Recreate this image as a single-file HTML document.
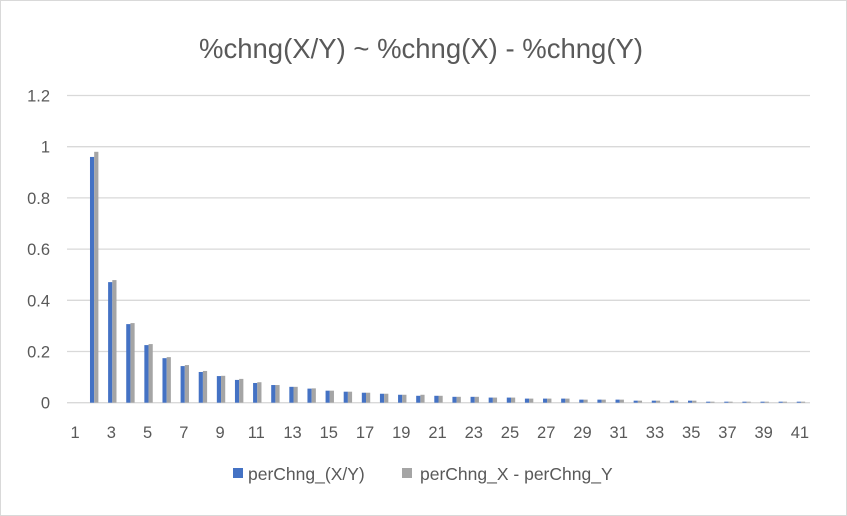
<!DOCTYPE html>
<html><head><meta charset="utf-8"><style>
body{margin:0;background:#fff;}
svg{display:block;font-family:"Liberation Sans",sans-serif;}
</style></head><body>
<svg id="chart" width="847" height="516" viewBox="0 0 847 516">
<rect x="0.5" y="0.5" width="846" height="515" fill="#fff" stroke="#d9d9d9"/>
<text x="421" y="58" text-anchor="middle" font-size="27.5" fill="#595959">%chng(X/Y) ~ %chng(X) - %chng(Y)</text>
<g id="grid"></g><g id="bars"></g><g id="xlabels"></g><g id="ylabels"></g>
<g>
<rect x="233" y="468" width="10" height="10" fill="#4472C4"/>
<text x="248" y="480" font-size="17.5" fill="#595959">perChng_(X/Y)</text>
<rect x="402" y="468" width="10" height="10" fill="#A5A5A5"/>
<text x="420" y="480" font-size="17.5" fill="#595959">perChng_X - perChng_Y</text>
</g>
</svg>
<script>
const categories=[];for(let i=1;i<=41;i++)categories.push(i);
const seriesXY=[0,0.96,0.471,0.307,0.225,0.174,0.143,0.12,0.104,0.089,0.077,0.069,0.062,0.055,0.047,0.043,0.039,0.035,0.031,0.027,0.027,0.023,0.023,0.02,0.02,0.016,0.016,0.016,0.012,0.012,0.012,0.008,0.008,0.008,0.008,0.004,0.004,0.004,0.004,0.004,0.004];
const seriesDiff=[0,0.98,0.479,0.311,0.229,0.178,0.147,0.124,0.105,0.093,0.08,0.069,0.062,0.056,0.047,0.043,0.039,0.035,0.031,0.031,0.027,0.023,0.023,0.02,0.02,0.016,0.016,0.016,0.012,0.012,0.012,0.008,0.008,0.008,0.008,0.004,0.004,0.004,0.004,0.004,0.004];
const yTicks=[0,0.2,0.4,0.6,0.8,1,1.2];
const NS="http://www.w3.org/2000/svg";
const x0=67,x1=810,y0=402.7,pxPerUnit=256;
const step=(x1-x0)/categories.length;
const xc=i=>x0+step*(i+0.5);
const y=v=>y0-v*pxPerUnit;
function mk(t,a,p){const e=document.createElementNS(NS,t);for(const k in a)e.setAttribute(k,a[k]);p.appendChild(e);return e;}
const grid=document.getElementById('grid'),bars=document.getElementById('bars'),xl=document.getElementById('xlabels'),yl=document.getElementById('ylabels');
yTicks.forEach(t=>{
 const l=mk('line',{x1:x0,x2:x1,y1:y(t),y2:y(t),stroke:'#d9d9d9','stroke-width':1.3},grid);
 
 
 const tx=mk('text',{x:50,y:y(t)+6,'text-anchor':'end','font-size':16.5,fill:'#595959'},yl);
 tx.textContent=String(t);
 
 
});
const bw=4.2;
categories.forEach((c,i)=>{
 const a=mk('rect',{x:xc(i)-bw,y:y(seriesXY[i]),width:bw,height:seriesXY[i]*pxPerUnit,fill:'#4472C4'},bars);
 
 
 const b=mk('rect',{x:xc(i),y:y(seriesDiff[i]),width:bw,height:seriesDiff[i]*pxPerUnit,fill:'#A5A5A5'},bars);
 
 
 if(i%2===0){
  const t=mk('text',{x:xc(i)-1,y:438,'text-anchor':'middle','font-size':16.5,fill:'#595959'},xl);
  t.textContent=String(c);
  
  
 }
});
</script>
</body></html>
